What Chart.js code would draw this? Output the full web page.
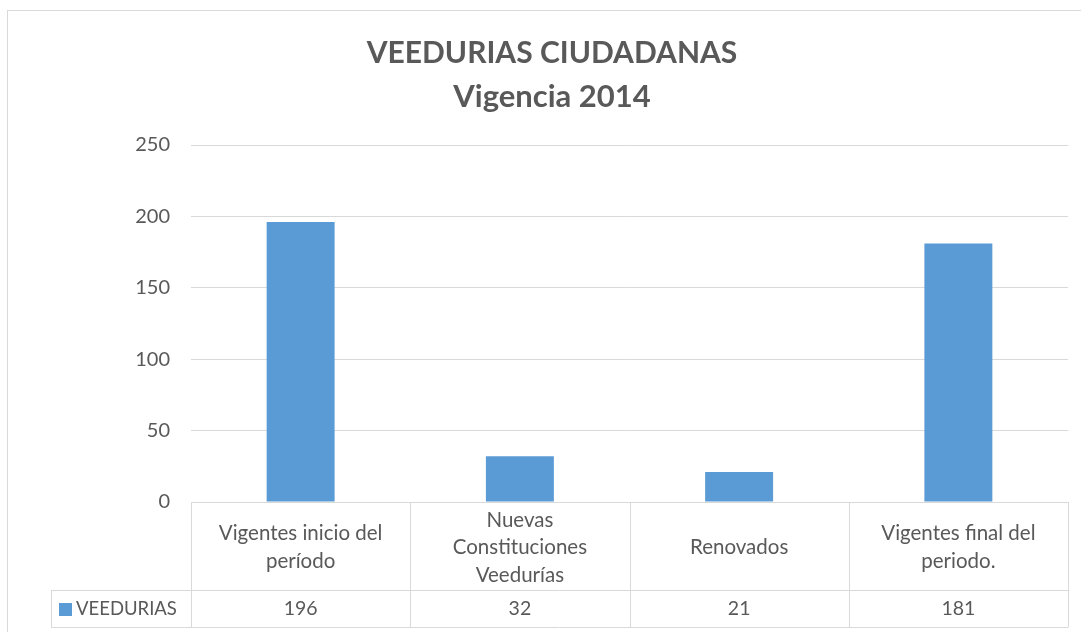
<!DOCTYPE html>
<html><head><meta charset="utf-8">
<script src="https://cdn.jsdelivr.net/npm/chart.js@4/dist/chart.umd.min.js"></script>
<style>html,body{margin:0;padding:0;background:#fff;}#wrap{width:1081px;height:632px;position:relative;}</style>
</head><body><div id="wrap"><canvas id="c" width="1081" height="632"></canvas></div>
<script>
const titleLines = ['VEEDURIAS CIUDADANAS', 'Vigencia 2014'];
const categories = [['Vigentes inicio del', 'período'], ['Nuevas', 'Constituciones', 'Veedurías'], ['Renovados'], ['Vigentes final del', 'periodo.']];
const seriesName = 'VEEDURIAS';
const values = [196, 32, 21, 181];
const yMin = 0, yMax = 250, yStep = 50;

const TEXT = '#595959', GRID = '#d9d9d9', BAR = '#5B9BD5';
const FONT = 'Lato, "Open Sans", sans-serif';

function hline(ctx, x1, x2, y) { ctx.beginPath(); ctx.moveTo(x1, Math.round(y) + 0.5); ctx.lineTo(x2, Math.round(y) + 0.5); ctx.stroke(); }
function vline(ctx, x, y1, y2) { ctx.beginPath(); ctx.moveTo(Math.round(x) + 0.5, y1); ctx.lineTo(Math.round(x) + 0.5, y2); ctx.stroke(); }

const decor = {
  id: 'decor',
  beforeDraw(chart) {
    const ctx = chart.ctx;
    ctx.save();
    ctx.fillStyle = '#fff';
    ctx.fillRect(0, 0, chart.width, chart.height);
    ctx.strokeStyle = GRID; ctx.lineWidth = 1;
    ctx.strokeRect(7.5, 10.5, chart.width + 10, chart.height + 10);
    ctx.fillStyle = TEXT;
    ctx.textAlign = 'center'; ctx.textBaseline = 'middle';
    const cx = 552;
    ctx.font = 'bold 30px ' + FONT;
    ctx.fillText(titleLines[0], cx, 53);
    ctx.font = 'bold 31px ' + FONT;
    ctx.fillText(titleLines[1], cx, 97);
    ctx.restore();
  },
  afterDraw(chart) {
    const ctx = chart.ctx, a = chart.chartArea, xs = chart.scales.x;
    const n = categories.length;
    const colW = (a.right - a.left) / n;
    const top = a.bottom, mid = 590, bot = 627, legL = 51;
    ctx.save();
    ctx.strokeStyle = GRID; ctx.lineWidth = 1;
    hline(ctx, a.left, a.right, top);
    hline(ctx, legL, a.right, mid);
    hline(ctx, legL, a.right, bot);
    vline(ctx, legL, mid, bot + 0.5);
    for (let i = 0; i <= n; i++) vline(ctx, a.left + i * colW, top, bot + 0.5);
    ctx.fillStyle = TEXT;
    ctx.textAlign = 'center'; ctx.textBaseline = 'middle';
    const yc = (top + mid) / 2 + 1.5, lh = 27.5;
    categories.forEach((lines, i) => {
      const x = xs.getPixelForValue(i);
      ctx.font = '20.5px ' + FONT;
      lines.forEach((t, j) => ctx.fillText(t, x, yc + (j - (lines.length - 1) / 2) * lh));
      ctx.font = '19.5px ' + FONT;
      ctx.fillText(String(values[i]), x, 609);
    });
    ctx.fillStyle = BAR;
    ctx.fillRect(59, 603, 13, 13);
    ctx.fillStyle = TEXT; ctx.textAlign = 'left';
    ctx.font = '18.5px ' + FONT;
    ctx.fillText(seriesName, 76, 609);
    ctx.restore();
  }
};

new Chart(document.getElementById('c'), {
  type: 'bar',
  data: {
    labels: categories.map(c => c.join(' ')),
    datasets: [{ label: seriesName, data: values, backgroundColor: BAR, borderWidth: 0, barPercentage: 1, categoryPercentage: 0.31 }]
  },
  options: {
    responsive: false, animation: false,
    devicePixelRatio: 1,
    layout: { padding: { left: 0, top: 145, right: 13, bottom: 130 } },
    plugins: { legend: { display: false }, title: { display: false }, tooltip: { enabled: false } },
    scales: {
      x: { display: false },
      y: {
        min: yMin, max: yMax,
        ticks: { stepSize: yStep, color: TEXT, font: { family: FONT, size: 20 }, padding: 21 },
        grid: { color: GRID, drawTicks: false },
        border: { display: false },
        afterFit(s) { s.width = 191; }
      }
    }
  },
  plugins: [decor]
});
</script>
</body></html>
